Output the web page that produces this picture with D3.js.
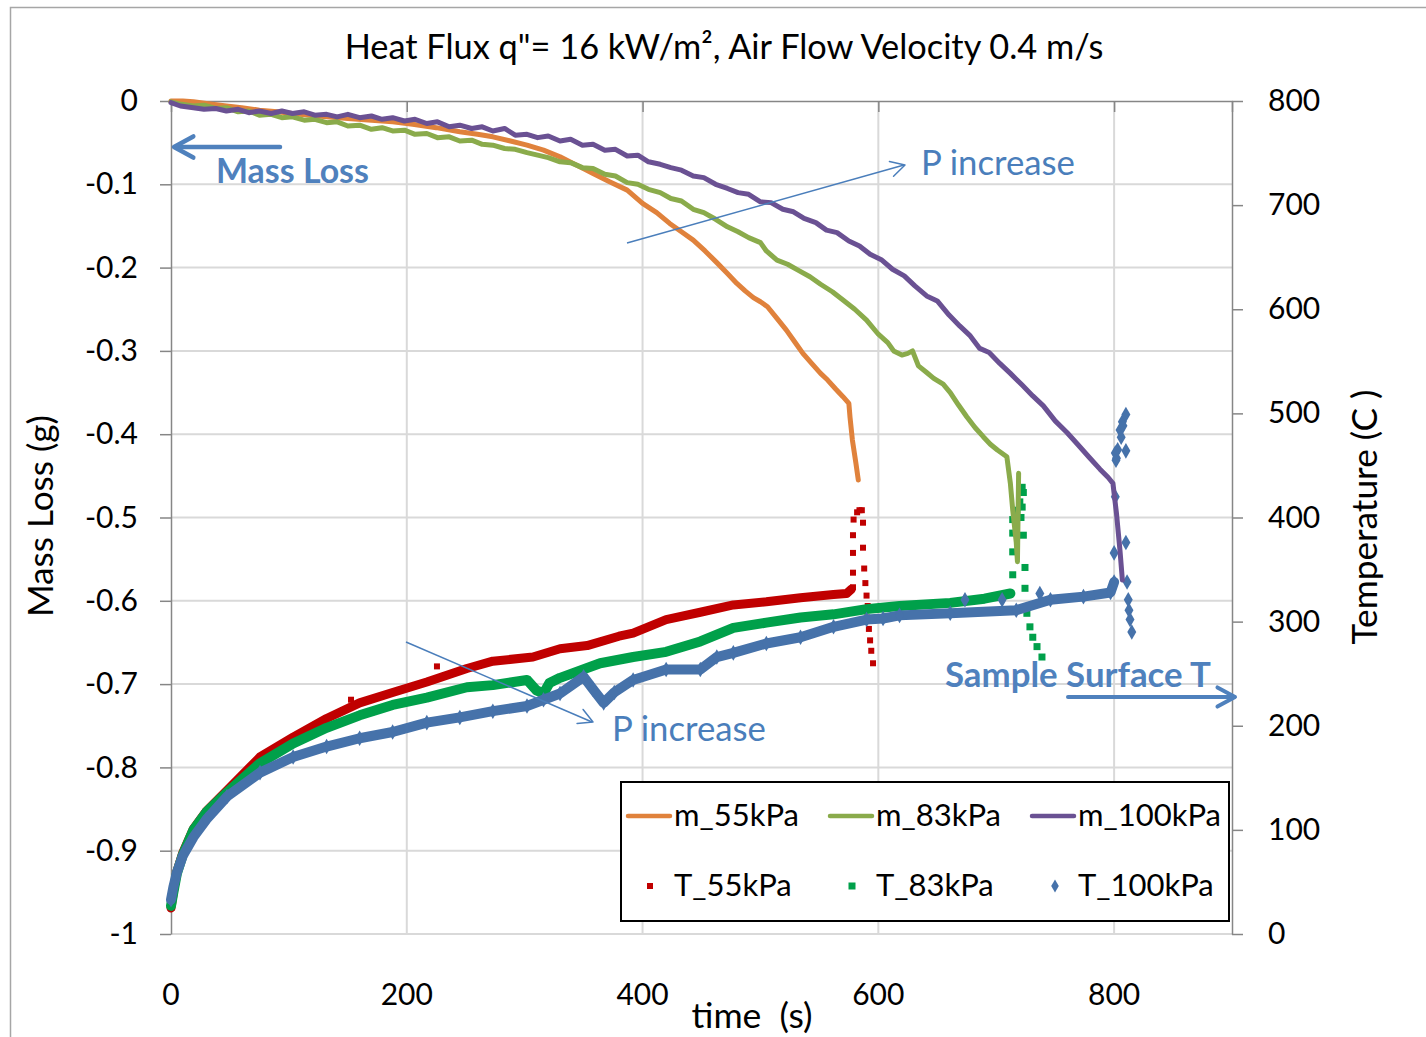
<!DOCTYPE html>
<html><head><meta charset="utf-8">
<script src="https://cdn.jsdelivr.net/npm/d3@7"></script>
<style>html,body{margin:0;padding:0;background:#fff}svg{display:block}text{font-family:Lato,"Open Sans",sans-serif}</style>
</head><body>
<svg id="c" width="1426" height="1037"></svg>
<script>
// ---------------- DATA ----------------
const titleText = 'Heat Flux q"= 16 kW/m², Air Flow Velocity 0.4 m/s';
const seriesNames = ["m_55kPa","m_83kPa","m_100kPa","T_55kPa","T_83kPa","T_100kPa"];
const timeTicks = [0,200,400,600,800];
const massTicks = [0,-0.1,-0.2,-0.3,-0.4,-0.5,-0.6,-0.7,-0.8,-0.9,-1];
const massTickLabels = ["0","-0.1","-0.2","-0.3","-0.4","-0.5","-0.6","-0.7","-0.8","-0.9","-1"];
const tempTicks = [0,100,200,300,400,500,600,700,800];

// mass loss (g) vs time (s)
const m55 = [[0,0.000],[10,0.000],[19,-0.001],[30,-0.003],[47,-0.006],[60,-0.008],[75,-0.011],[90,-0.013],[103,-0.015],[118,-0.017],[132,-0.019],[150,-0.021],[170,-0.023],[188,-0.025],[205,-0.028],[225,-0.032],[245,-0.037],[260,-0.040],[273,-0.043],[288,-0.048],[302,-0.053],[316,-0.059],[330,-0.067],[344,-0.077],[358,-0.087],[372,-0.097],[387,-0.107],[400,-0.123],[412,-0.134],[423,-0.147],[433,-0.157],[443,-0.167],[453,-0.180],[463,-0.194],[472,-0.207],[480,-0.219],[487,-0.228],[494,-0.236],[500,-0.241],[506,-0.247],[514,-0.261],[522,-0.275],[529,-0.289],[536,-0.303],[544,-0.316],[551,-0.327],[557,-0.335],[564,-0.346],[570,-0.355],[575,-0.363],[576,-0.380],[578,-0.407],[581,-0.435],[583,-0.455]];
const m83 = [[0,-0.001],[9,-0.004],[19,-0.006],[28,-0.005],[38,-0.009],[47,-0.008],[57,-0.013],[66,-0.012],[75,-0.017],[85,-0.016],[94,-0.020],[103,-0.019],[113,-0.023],[122,-0.022],[132,-0.026],[141,-0.025],[150,-0.030],[160,-0.029],[170,-0.034],[179,-0.032],[188,-0.036],[198,-0.035],[207,-0.040],[217,-0.039],[226,-0.044],[236,-0.043],[245,-0.048],[255,-0.047],[264,-0.052],[273,-0.053],[283,-0.057],[292,-0.058],[302,-0.062],[311,-0.065],[320,-0.068],[330,-0.073],[339,-0.074],[349,-0.080],[358,-0.081],[368,-0.088],[377,-0.090],[387,-0.098],[396,-0.100],[405,-0.106],[415,-0.110],[424,-0.117],[433,-0.120],[443,-0.130],[452,-0.134],[462,-0.142],[472,-0.151],[481,-0.157],[490,-0.164],[500,-0.170],[505,-0.180],[514,-0.191],[523,-0.196],[533,-0.204],[542,-0.211],[551,-0.220],[561,-0.229],[570,-0.239],[580,-0.250],[590,-0.263],[600,-0.280],[608,-0.290],[613,-0.300],[620,-0.305],[625,-0.303],[629,-0.300],[634,-0.318],[641,-0.326],[647,-0.333],[655,-0.340],[661,-0.350],[668,-0.365],[675,-0.379],[682,-0.392],[689,-0.403],[695,-0.412],[701,-0.419],[709,-0.427],[712,-0.459],[714,-0.491],[717,-0.530],[718,-0.553],[719,-0.447]];
const m100 = [[0,-0.002],[8,-0.006],[19,-0.008],[28,-0.010],[38,-0.009],[47,-0.012],[57,-0.010],[66,-0.014],[75,-0.012],[85,-0.015],[94,-0.012],[103,-0.015],[113,-0.013],[122,-0.017],[132,-0.016],[141,-0.019],[150,-0.016],[160,-0.020],[170,-0.018],[179,-0.022],[188,-0.020],[198,-0.024],[207,-0.022],[217,-0.027],[226,-0.025],[236,-0.031],[245,-0.029],[255,-0.033],[264,-0.031],[273,-0.036],[283,-0.033],[292,-0.041],[302,-0.040],[311,-0.044],[320,-0.042],[330,-0.048],[339,-0.046],[349,-0.053],[358,-0.052],[368,-0.059],[377,-0.058],[387,-0.066],[396,-0.065],[405,-0.073],[415,-0.076],[424,-0.080],[433,-0.083],[443,-0.090],[452,-0.092],[462,-0.100],[472,-0.105],[481,-0.110],[490,-0.112],[500,-0.121],[509,-0.122],[519,-0.130],[528,-0.133],[537,-0.141],[547,-0.146],[556,-0.155],[565,-0.158],[575,-0.168],[584,-0.174],[593,-0.184],[603,-0.191],[612,-0.202],[622,-0.210],[631,-0.222],[641,-0.234],[650,-0.240],[660,-0.257],[669,-0.270],[678,-0.282],[686,-0.297],[694,-0.302],[703,-0.315],[712,-0.327],[722,-0.341],[731,-0.354],[740,-0.366],[750,-0.384],[760,-0.398],[769,-0.412],[779,-0.428],[788,-0.442],[795,-0.452],[799,-0.459],[802,-0.495],[805,-0.540],[807,-0.575]];

// sample surface temperature (C) vs time (s): dense logging phase
const t55 = [[0,25],[2,40],[5,60],[10,78],[19,101],[30,118],[47.5,138],[75.5,170],[103.6,189],[132,207],[160,222],[188,232],[217,242],[251,255],[273,262],[307,266],[330,274],[353,277],[380,286],[392,289],[420,302],[449,309],[477,316],[505,319],[534,323],[562,326],[573,327],[577,331]];
// sparse / ignition phase
const t55s = [[152.7,225],[225.6,257],[578.5,333],[578.5,347],[578.5,366],[578.5,383],[579,398],[582,405],[584,407],[586,407],[587,395],[587,371],[588,351],[589,337],[590,325],[590.5,304],[591,315],[592,293],[593,282],[594,272],[595.5,260]];
const t83 = [[0,27],[2,40],[5,58],[10,76],[19,100],[30,117],[47.5,136],[75.5,164],[103.6,183],[132,198],[160,210],[188,220],[217,227],[251,237],[273,239],[302,244],[310,234],[316,231],[321,241],[330,246],[364,260],[392,266],[420,271],[449,281],[477,294],[505,299],[534,304],[562,307],[590,312],[618,315],[661,318],[690,322],[712,327]];
const t83s = [[714,345],[714,367],[714,385],[714,398],[717.6,407],[720,415],[721,400],[722,429],[722,410],[723,424],[723,383],[724.4,352],[724.4,332],[726,308],[728.6,295],[731,285],[734.6,276],[738.8,266]];
const t100 = [[0,33],[2,45],[5,59],[10,75],[19,93],[30,110],[47.5,132],[75.5,155],[103.6,170],[132,180],[160,188],[188,194],[217,203],[245,208],[273,214],[302,219],[316,225],[330,231],[350,247],[358,235],[367,222],[376,232],[392,244],[420,254],[449,254],[463,266],[477,270],[505,279],[534,285],[562,295],[590,302],[604,303],[618,306],[661,308],[717,311],[746,321],[774,324],[797,328],[800,338]];
const t100s = [[673.5,321],[705,321],[737,327],[800,366],[801,420],[801.6,455],[801,462],[802,457],[803,465],[805,484],[806,477],[807,492],[807.5,488],[810,499],[810,464],[810,376],[811,338],[812,321],[812.6,311],[813.5,302],[815,290]];

// ---------------- CHART ----------------
const svg = d3.select("#c");
const FONT = 'Lato,"Open Sans",sans-serif';
const x = d3.scaleLinear().domain([0,900]).range([171,1232]);
const yL = d3.scaleLinear().domain([-1,0]).range([934,101]);
const yR = d3.scaleLinear().domain([0,800]).range([934,101]);
const axisGray = "#868686", gridGray = "#d9d9d9";
const blueTxt = "#4f81bd";

svg.append("rect").attr("width",1426).attr("height",1037).attr("fill","#fff");
svg.append("rect").attr("x",10.5).attr("y",7.5).attr("width",1440).attr("height",1060)
  .attr("fill","none").attr("stroke","#a6a6a6").attr("stroke-width",1.5);

// gridlines
svg.append("g").selectAll("line").data(massTicks.filter(d=>d!==0)).join("line")
  .attr("x1",x(0)).attr("x2",x(900)).attr("y1",d=>yL(d)).attr("y2",d=>yL(d))
  .attr("stroke",gridGray).attr("stroke-width",2);
svg.append("g").selectAll("line").data(timeTicks.filter(d=>d>0)).join("line")
  .attr("x1",d=>x(d)).attr("x2",d=>x(d)).attr("y1",yL(0)).attr("y2",yL(-1))
  .attr("stroke",gridGray).attr("stroke-width",2);

// left axis
const gL = svg.append("g").attr("transform",`translate(${x(0)},0)`)
  .call(d3.axisLeft(yL).tickValues(massTicks).tickFormat((d,i)=>massTickLabels[i]).tickSizeInner(11).tickSizeOuter(0).tickPadding(22));
// right axis
const gR = svg.append("g").attr("transform",`translate(${x(900)},0)`)
  .call(d3.axisRight(yR).tickValues(tempTicks).tickFormat(d=>String(d)).tickSizeInner(11).tickSizeOuter(0).tickPadding(25));
// top horizontal axis (crosses at mass = 0)
const gT = svg.append("g").attr("transform",`translate(0,${yL(0)})`)
  .call(d3.axisBottom(x).tickValues(timeTicks.concat([900])).tickFormat("").tickSizeInner(11).tickSizeOuter(0));
[gL,gR,gT].forEach(g=>{
  g.selectAll("path.domain").attr("stroke",axisGray).attr("stroke-width",1.5);
  g.selectAll(".tick line").attr("stroke",axisGray).attr("stroke-width",1.5);
  g.selectAll("text").attr("fill","#000").style("font-family",FONT).attr("font-size",30);
});
// x tick labels (low position)
svg.append("g").selectAll("text").data(timeTicks).join("text")
  .attr("x",d=>x(d)).attr("y",1005).attr("text-anchor","middle")
  .attr("font-size",30).attr("fill","#000").text(d=>String(d));

// series lines
const lineM = d3.line().x(d=>x(d[0])).y(d=>yL(d[1]));
const lineT = d3.line().x(d=>x(d[0])).y(d=>yR(d[1]));
const Tser = [
  {band:t55, pts:t55s, color:"#c00000", w:9, shape:"sq", s:6},
  {band:t83, pts:t83s, color:"#00a04a", w:10, shape:"sq", s:7},
  {band:t100, pts:t100s, color:"#4672aa", w:10, shape:"dia", s:70}
];
const gData = svg.append("g");
Tser.forEach(S=>{
  gData.append("path").attr("d",lineT(S.band)).attr("fill","none").attr("stroke",S.color)
    .attr("stroke-width",S.w).attr("stroke-linejoin","round").attr("stroke-linecap","round");
  const all = S.band.concat(S.pts);
  if(S.shape==="sq"){
    gData.append("g").selectAll("rect").data(all).join("rect")
      .attr("x",d=>x(d[0])-S.s/2).attr("y",d=>yR(d[1])-S.s/2).attr("width",S.s).attr("height",S.s).attr("fill",S.color);
  } else {
    const sym = d3.symbol().type(d3.symbolDiamond).size(S.s);
    gData.append("g").selectAll("path").data(all).join("path")
      .attr("transform",d=>`translate(${x(d[0])},${yR(d[1])})`).attr("d",sym()).attr("fill",S.color);
  }
});
const Mser = [{d:m55,c:"#e0823c"},{d:m83,c:"#8aab4b"},{d:m100,c:"#6a5193"}];
Mser.forEach(S=>{
  gData.append("path").attr("d",lineM(S.d)).attr("fill","none").attr("stroke",S.c)
    .attr("stroke-width",5).attr("stroke-linejoin","round").attr("stroke-linecap","round");
});

// title & axis titles
function fit(sel,w){const n=sel.node();const l=n.getComputedTextLength();const fs=parseFloat(sel.attr("font-size"));sel.attr("font-size",fs*w/l);return sel;}
fit(svg.append("text").attr("x",724).attr("y",59).attr("text-anchor","middle").attr("font-size",29).attr("fill","#000").text(titleText),759);
fit(svg.append("text").attr("transform","translate(53,516) rotate(-90)").attr("text-anchor","middle").attr("font-size",29).attr("fill","#000").text("Mass Loss (g)"),202);
fit(svg.append("text").attr("transform","translate(1377,517) rotate(-90)").attr("text-anchor","middle").attr("font-size",29).attr("fill","#000").text("Temperature (C )"),255);
fit(svg.append("text").attr("x",752).attr("y",1028).attr("text-anchor","middle").attr("font-size",29).attr("fill","#000").style("white-space","pre").text("time  (s)"),121);

// annotations
function arrowHead(g,tip,dx,dy,len,spread,col,w){
  const a=Math.atan2(dy,dx);
  const p1=[tip[0]-len*Math.cos(a-spread),tip[1]-len*Math.sin(a-spread)];
  const p2=[tip[0]-len*Math.cos(a+spread),tip[1]-len*Math.sin(a+spread)];
  g.append("path").attr("d",`M${p1}L${tip}L${p2}`).attr("fill","none").attr("stroke",col).attr("stroke-width",w).attr("stroke-linecap","round").attr("stroke-linejoin","round");
}
const gA = svg.append("g");
gA.append("line").attr("x1",280).attr("y1",147).attr("x2",175).attr("y2",147).attr("stroke",blueTxt).attr("stroke-width",4.5).attr("stroke-linecap","round");
arrowHead(gA,[174,147],-1,0,22,0.5,blueTxt,4.5);
fit(gA.append("text").attr("x",216).attr("y",183).attr("font-size",30).attr("font-weight","bold").attr("fill",blueTxt).text("Mass Loss"),153);
gA.append("line").attr("x1",1068).attr("y1",697).attr("x2",1234).attr("y2",697).attr("stroke",blueTxt).attr("stroke-width",4).attr("stroke-linecap","round");
arrowHead(gA,[1235,697],1,0,20,0.5,blueTxt,4);
fit(gA.append("text").attr("x",945).attr("y",687).attr("font-size",30).attr("font-weight","bold").attr("fill",blueTxt).text("Sample Surface T"),266);
gA.append("line").attr("x1",627).attr("y1",243).attr("x2",904).attr("y2",165).attr("stroke","#4a7ebb").attr("stroke-width",1.5);
arrowHead(gA,[905,165],278,-78,16,0.5,"#4a7ebb",1.5);
fit(gA.append("text").attr("x",921).attr("y",175).attr("font-size",30).attr("fill","#4a7ebb").text("P increase"),154);
gA.append("line").attr("x1",406).attr("y1",642).attr("x2",592).attr("y2",722).attr("stroke","#4a7ebb").attr("stroke-width",1.5);
arrowHead(gA,[593,722],187,80,16,0.5,"#4a7ebb",1.5);
fit(gA.append("text").attr("x",612).attr("y",741).attr("font-size",30).attr("fill","#4a7ebb").text("P increase"),154);

// legend
const gLeg = svg.append("g");
gLeg.append("rect").attr("x",621).attr("y",782).attr("width",608).attr("height",139).attr("fill","#fff").attr("stroke","#000").attr("stroke-width",2);
const legItems = [
  {n:seriesNames[0],c:"#e0823c",t:"line",x:628,y:816},
  {n:seriesNames[1],c:"#8aab4b",t:"line",x:830,y:816},
  {n:seriesNames[2],c:"#6a5193",t:"line",x:1032,y:816},
  {n:seriesNames[3],c:"#c00000",t:"sq",s:6,x:650,y:886},
  {n:seriesNames[4],c:"#00a04a",t:"sq",s:7,x:852,y:886},
  {n:seriesNames[5],c:"#4672aa",t:"dia",x:1055,y:886}
];
let legFs = null;
legItems.forEach((it,i)=>{
  let tx;
  if(it.t==="line"){
    gLeg.append("line").attr("x1",it.x).attr("x2",it.x+42).attr("y1",it.y).attr("y2",it.y).attr("stroke",it.c).attr("stroke-width",4.5).attr("stroke-linecap","round");
    tx = it.x+46;
  } else if(it.t==="sq"){
    gLeg.append("rect").attr("x",it.x-it.s/2).attr("y",it.y-it.s/2).attr("width",it.s).attr("height",it.s).attr("fill",it.c);
    tx = it.x+24;
  } else {
    gLeg.append("path").attr("transform",`translate(${it.x},${it.y})`).attr("d",d3.symbol().type(d3.symbolDiamond).size(50)()).attr("fill",it.c);
    tx = it.x+23;
  }
  const t = gLeg.append("text").attr("x",tx).attr("y",it.y+10).attr("font-size",28).attr("fill","#000").text(it.n);
  if(i===0){ fit(t,125); legFs = t.attr("font-size"); } else t.attr("font-size",legFs);
});
</script>
</body></html>
